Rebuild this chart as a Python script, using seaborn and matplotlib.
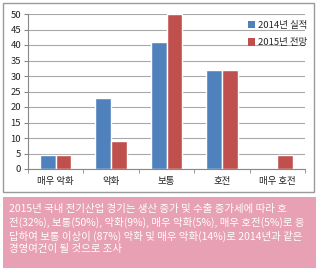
import numpy as np
import pandas as pd
import matplotlib
matplotlib.use("Agg")
import matplotlib.pyplot as plt
import seaborn as sns
from matplotlib.patches import Rectangle, Patch

# --- DATA ---
categories = ['매우 악화', '악화', '보통', '호전', '매우 호전']
series_names = ['2014년 실적', '2015년 전망']
values_2014 = [4.6, 23, 41, 32, 0]
values_2015 = [4.6, 9, 50, 32, 4.6]
y_ticks = list(range(0, 55, 5))
caption_lines = [
    '2015년 국내 전기산업 경기는 생산 증가 및 수출 증가세에 따라 호',
    '전(32%), 보통(50%), 악화(9%), 매우 악화(5%), 매우 호전(5%)로 응',
    '답하여 보통 이상이 (87%) 악화 및 매우 악화(14%)로 2014년과 같은',
    '경영여건이 될 것으로 조사',
]

COLORS = {'2014년 실적': '#4F81BD', '2015년 전망': '#C0504D'}

df = pd.DataFrame({
    'category': categories * 2,
    'series': [series_names[0]] * 5 + [series_names[1]] * 5,
    'value': values_2014 + values_2015,
})

sns.set_style('white')
plt.rcParams['font.family'] = ['Noto Sans CJK KR', 'DejaVu Sans']

W, H = 318, 272
fig = plt.figure(figsize=(W / 100, H / 100), dpi=100)

def px(x0, y0, x1, y1):
    # pixel box (top-left origin) -> figure fraction
    return [x0 / W, 1 - y1 / H, (x1 - x0) / W, (y1 - y0) / H]

# outer chart border
fig.patches.append(Rectangle((3 / W, 1 - 192 / H), 311 / W, 189 / H,
                             transform=fig.transFigure, fill=False,
                             edgecolor='#9A9A9A', linewidth=1.0))
# pink caption box
fig.patches.append(Rectangle((3 / W, 1 - 268 / H), 313 / W, 71 / H,
                             transform=fig.transFigure, facecolor='#E8A0B4',
                             edgecolor='none'))

ax = fig.add_axes(px(28, 14, 305, 169))
sns.barplot(data=df, x='category', y='value', hue='series', order=categories,
            hue_order=series_names, palette=COLORS, width=0.57, gap=0,
            saturation=1, ax=ax, legend=False)

ax.set_ylim(0, 50)
ax.set_xlim(-0.5, 4.5)
ax.set_yticks(y_ticks)
ax.set_yticklabels([str(t) for t in y_ticks], fontsize=6.8, color='#222222')
ax.set_xticks(range(5))
ax.set_xticklabels(categories, fontsize=6.8, color='#222222')
ax.tick_params(axis='x', length=0, pad=6)
ax.tick_params(axis='y', length=3, color='#888888', pad=2, direction='out', left=True)
ax.set_xticks(np.arange(-0.5, 5, 1), minor=True)
ax.tick_params(axis='x', which='minor', length=3, color='#888888', bottom=True)
ax.set_xlabel('')
ax.set_ylabel('')
ax.grid(True, axis='y', color='#A8A8A8', linewidth=0.8)
ax.set_axisbelow(True)
for s in ['top', 'right']:
    ax.spines[s].set_visible(False)
ax.spines['left'].set_color('#888888')
ax.spines['bottom'].set_color('#888888')
ax.spines['left'].set_linewidth(0.8)
ax.spines['bottom'].set_linewidth(0.8)

handles = [Patch(facecolor=COLORS[s], edgecolor='none') for s in series_names]
ax.legend(handles, series_names, loc='upper left', bbox_to_anchor=(0.77, 1.0),
          frameon=False, fontsize=6.8, handlelength=0.7, handleheight=0.9,
          handletextpad=0.4, labelspacing=0.9, borderpad=0.2)

fig.text(9 / W, 1 - 204 / H, '\n'.join(caption_lines), color='white',
         fontsize=7.5, va='top', ha='left', linespacing=1.3,
         fontweight='medium')

fig.savefig('out.png', dpi=100)
